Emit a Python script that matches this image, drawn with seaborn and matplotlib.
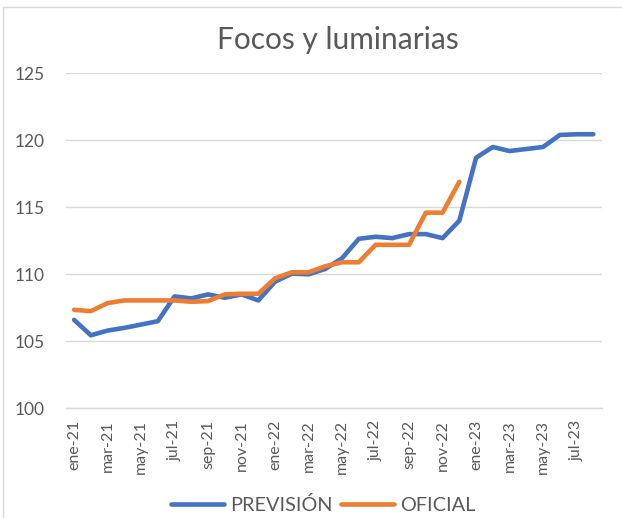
import numpy as np
import matplotlib.pyplot as plt
import seaborn as sns
import pandas as pd
from matplotlib.lines import Line2D

# monthly series

meses = ['ene', 'feb', 'mar', 'abr', 'may', 'jun', 'jul', 'ago', 'sep', 'oct', 'nov', 'dic']
periodos = [f'{m}-{a}' for a in ['21', '22', '23'] for m in meses][:32]

prevision = [106.6, 105.45, 105.8, 106.0, 106.25, 106.5, 108.35, 108.2, 108.5, 108.25,
             108.5, 108.05, 109.45, 110.05, 110.0, 110.4, 111.2, 112.65, 112.8, 112.7,
             113.0, 113.0, 112.7, 114.0, 118.7, 119.5, 119.2, 119.35, 119.5, 120.4,
             120.45, 120.45]
oficial = [107.35, 107.25, 107.85, 108.05, 108.05, 108.05, 108.05, 107.95, 108.0, 108.5,
           108.55, 108.55, 109.7, 110.15, 110.15, 110.6, 110.9, 110.9, 112.2, 112.2,
           112.2, 114.6, 114.6, 116.9]

series = ['PREVISIÓN', 'OFICIAL']
colores = ['#4472C4', '#ED7D31']

# long-form frame for seaborn

df = pd.concat([
    pd.DataFrame({'periodo': periodos[:len(prevision)], 'valor': prevision, 'serie': series[0]}),
    pd.DataFrame({'periodo': periodos[:len(oficial)], 'valor': oficial, 'serie': series[1]}),
])
df['pos'] = df['periodo'].map({p: i + 0.5 for i, p in enumerate(periodos)})

sns.set_theme(style='white')
plt.rcParams['font.family'] = ['Lato', 'DejaVu Sans']

gris_txt = '#595959'
gris_lin = '#D9D9D9'

fig = plt.figure(figsize=(6.22, 5.18), dpi=100)
ax = fig.add_axes([65.7 / 622, 1 - 408.3 / 518, 536 / 622, 335 / 518])

sns.lineplot(data=df, x='pos', y='valor', hue='serie', palette=colores,
             linewidth=3.3, ax=ax, legend=False, sort=False)
for ln in ax.get_lines():
    ln.set_solid_capstyle('round')
    ln.set_solid_joinstyle('round')

ax.set_xlim(0, len(periodos))
ax.set_ylim(100, 125)
ax.set_yticks(np.arange(100, 126, 5))
ax.yaxis.grid(True, color=gris_lin, linewidth=1.0)
ax.set_axisbelow(True)

ax.set_xticks([i + 0.5 for i in range(0, len(periodos), 2)])
ax.set_xticklabels(periodos[::2], rotation=90)
ax.set_xticks(range(0, len(periodos) + 1, 2), minor=True)
ax.tick_params(axis='x', which='major', length=0, pad=8.5, labelsize=11.5, labelcolor=gris_txt)
ax.tick_params(axis='x', which='minor', length=3.8, width=1, color=gris_lin, direction='out')
ax.tick_params(axis='y', length=0, pad=15, labelsize=12.5, labelcolor=gris_txt)

for s in ['top', 'right', 'left']:
    ax.spines[s].set_visible(False)
ax.spines['bottom'].set_color(gris_lin)
ax.spines['bottom'].set_linewidth(1.0)
ax.set_xlabel('')
ax.set_ylabel('')

fig.text(338 / 622, 1 - 40 / 518, 'Focos y luminarias', ha='center', va='center',
         fontsize=21.5, color=gris_txt)

handles = [Line2D([0], [0], color=c, linewidth=3.3, solid_capstyle='round') for c in colores]
fig.legend(handles, series, loc='center', bbox_to_anchor=(323 / 622, 1 - 505 / 518),
           ncol=2, frameon=False, fontsize=14.3, labelcolor=gris_txt,
           handlelength=2.7, handletextpad=0.3, columnspacing=0.4, borderpad=0)

# chart border
fig.add_artist(Line2D([3 / 622, 3 / 622], [0, 1 - 7 / 518], color=gris_lin, linewidth=1,
                      transform=fig.transFigure))
fig.add_artist(Line2D([3 / 622, 1], [1 - 7 / 518, 1 - 7 / 518], color=gris_lin, linewidth=1,
                      transform=fig.transFigure))

plt.savefig('out.png', dpi=100)
